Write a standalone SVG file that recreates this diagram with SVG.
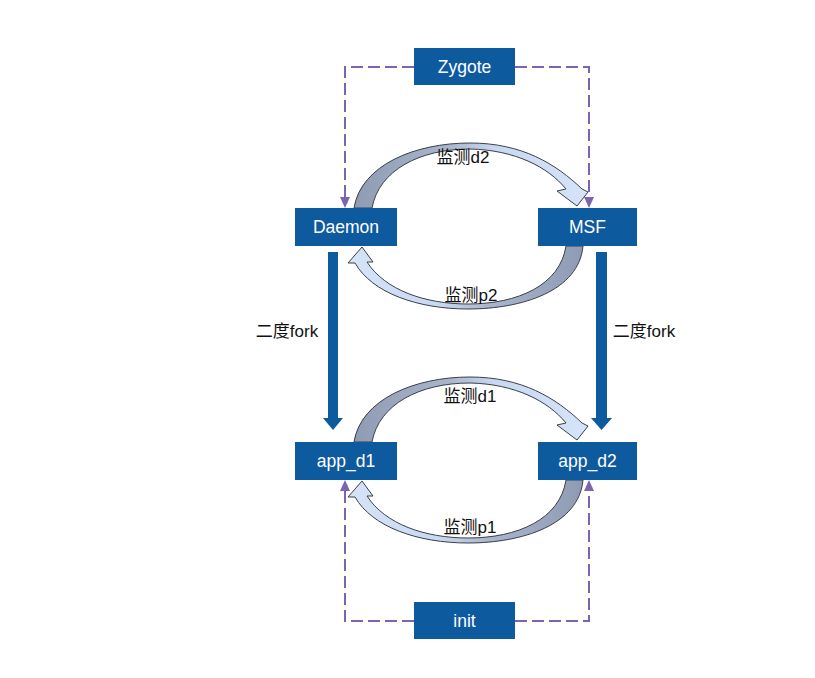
<svg xmlns="http://www.w3.org/2000/svg" width="815" height="678" viewBox="0 0 815 678">
  <style>
    .box { fill: #0e5a9f; }
    .ntext { font-family: "Liberation Sans", Arial, sans-serif; font-size: 17.5px; fill: #ffffff; text-anchor: middle; }
    .lbl { font-family: "Liberation Sans", "Noto Sans CJK SC", sans-serif; font-size: 17px; fill: #111111; text-anchor: middle; }
    .dash { fill: none; stroke: #7b65b2; stroke-width: 2; stroke-dasharray: 12 5; }
    .thick { fill: #0e5a9f; }
    .arcR { fill: url(#gR); stroke: #3a3f4a; stroke-width: 1; stroke-linejoin: round; }
    .arcL { fill: url(#gL); stroke: #3a3f4a; stroke-width: 1; stroke-linejoin: round; }
  </style>
  <defs>
    <linearGradient id="gR" x1="0" y1="0" x2="1" y2="0">
      <stop offset="0" stop-color="#8f9bb3"/>
      <stop offset="0.4" stop-color="#a9b5cb"/>
      <stop offset="0.6" stop-color="#c8d8f0"/>
      <stop offset="1" stop-color="#d6e4f8"/>
    </linearGradient>
    <linearGradient id="gL" x1="1" y1="0" x2="0" y2="0">
      <stop offset="0" stop-color="#8f9bb3"/>
      <stop offset="0.4" stop-color="#a9b5cb"/>
      <stop offset="0.6" stop-color="#c8d8f0"/>
      <stop offset="1" stop-color="#d6e4f8"/>
    </linearGradient>
  </defs>
  <rect width="815" height="678" fill="#ffffff"/>

  <g id="connectors">
    <!-- dashed from Zygote -->
    <path class="dash" d="M414,67 H345 V197"/>
    <path d="M340,197 L345,208 L350,197 Z" fill="#7b65b2"/>
    <path class="dash" d="M515,67 H589 V197"/>
    <path d="M584,197 L589,208 L594,197 Z" fill="#7b65b2"/>
    <!-- dashed from init -->
    <path class="dash" d="M414,621 H345 V491"/>
    <path d="M340,491 L345,480 L350,491 Z" fill="#7b65b2"/>
    <path class="dash" d="M515,621 H589 V491"/>
    <path d="M584,491 L589,480 L594,491 Z" fill="#7b65b2"/>

    <!-- thick fork arrows -->
    <path class="thick" d="M328,252 H338 V418 H343 L333,430 L323,418 H328 Z"/>
    <path class="thick" d="M596,252 H607 V418 H612 L601.5,430 L591,418 H596 Z"/>

    <!-- curved arrows -->
    <path id="arc-d2" class="arcR" d="M354,208 C361,165 415,143 470,143 C522,143 556,164 582,189 L588,192 L577,206 L557,191 L566,189 C548,167 515,150 470,149 C420,149 379,170 372,208 Z"/>
    <path id="arc-p2" class="arcL" d="M583,246 C579,291 522,309 468,309 C418,309 372,293 355,263 L348,263 L362,247 L373,262 L367,262 C385,290 425,304 468,304 C518,304 560,285 566,246 Z"/>
    <path id="arc-d1" class="arcR" transform="translate(0,234)" d="M354,208 C361,165 415,143 470,143 C522,143 556,164 582,189 L588,192 L577,206 L557,191 L566,189 C548,167 515,150 470,149 C420,149 379,170 372,208 Z"/>
    <path id="arc-p1" class="arcL" transform="translate(0,234)" d="M583,246 C579,291 522,309 468,309 C418,309 372,293 355,263 L348,263 L362,247 L373,262 L367,262 C385,290 425,304 468,304 C518,304 560,285 566,246 Z"/>

    <text class="lbl" x="463" y="163">监测d2</text>
    <text class="lbl" x="471" y="301">监测p2</text>
    <text class="lbl" x="470" y="402">监测d1</text>
    <text class="lbl" x="470" y="533">监测p1</text>
    <text class="lbl" x="287" y="337">二度fork</text>
    <text class="lbl" x="644" y="337">二度fork</text>
  </g>

  <g id="zygote">
    <rect class="box" x="414" y="48" width="101" height="37"/>
    <text class="ntext" x="464.5" y="72.5">Zygote</text>
  </g>
  <g id="daemon">
    <rect class="box" x="295" y="208" width="102" height="38"/>
    <text class="ntext" x="346" y="233">Daemon</text>
  </g>
  <g id="msf">
    <rect class="box" x="538" y="208" width="99" height="38"/>
    <text class="ntext" x="587.5" y="233">MSF</text>
  </g>
  <g id="app_d1">
    <rect class="box" x="295" y="442" width="102" height="38"/>
    <text class="ntext" x="346" y="467">app_d1</text>
  </g>
  <g id="app_d2">
    <rect class="box" x="538" y="442" width="99" height="38"/>
    <text class="ntext" x="587.5" y="467">app_d2</text>
  </g>
  <g id="init">
    <rect class="box" x="414" y="602" width="101" height="37"/>
    <text class="ntext" x="464.5" y="626.5">init</text>
  </g>
</svg>
